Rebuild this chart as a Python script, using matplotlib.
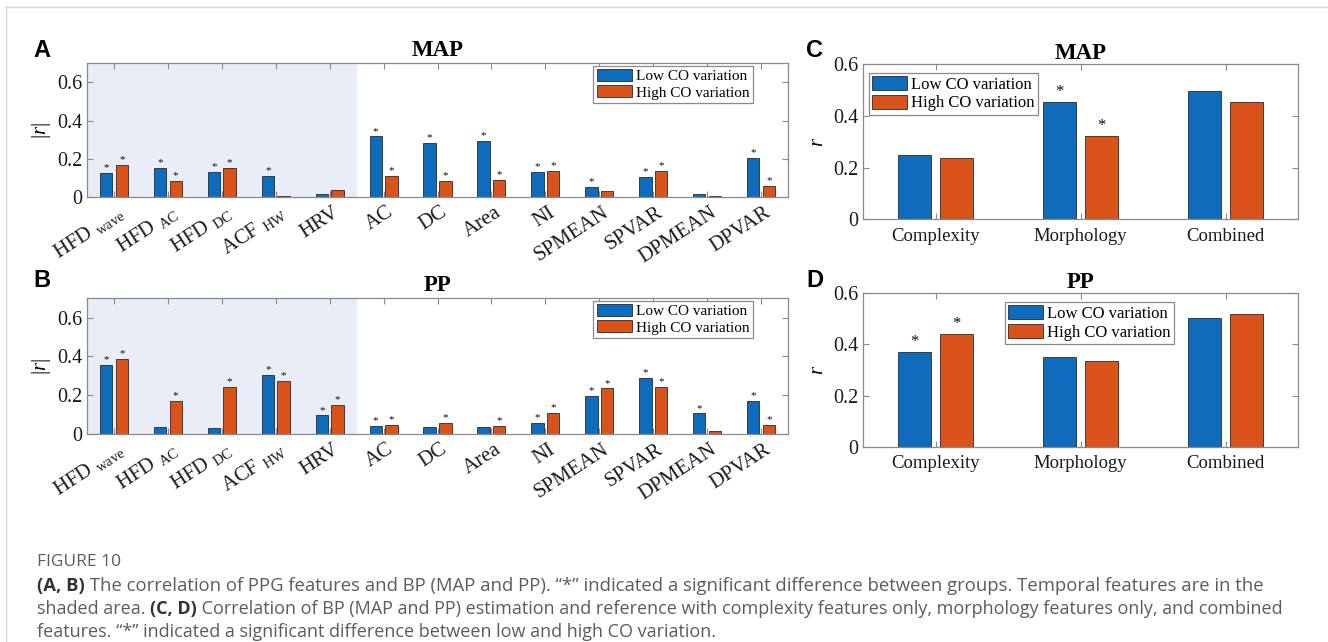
import matplotlib
matplotlib.use('Agg')
import matplotlib.pyplot as plt
import numpy as np
from matplotlib.lines import Line2D
from matplotlib.ticker import FuncFormatter
from matplotlib.transforms import ScaledTranslation

plt.rcParams['font.family'] = ['Liberation Serif', 'DejaVu Serif']
plt.rcParams['mathtext.fontset'] = 'custom'
plt.rcParams['mathtext.rm'] = 'Liberation Serif'
plt.rcParams['mathtext.it'] = 'Liberation Serif:italic'
plt.rcParams['mathtext.bf'] = 'Liberation Serif:bold'

# PPG features (first five are temporal -> shaded)
FEATURES = [r'HFD $_{\rm wave}$', r'HFD $_{\rm AC}$', r'HFD $_{\rm DC}$', r'ACF $_{\rm HW}$', 'HRV',
            'AC', 'DC', 'Area', 'NI', 'SPMEAN', 'SPVAR', 'DPMEAN', 'DPVAR']
N_TEMPORAL = 5

# (A) |r| with MAP
MAP_LOW = [0.126, 0.153, 0.132, 0.110, 0.018, 0.317, 0.284, 0.293, 0.132, 0.053, 0.105, 0.014, 0.205]
MAP_HIGH = [0.168, 0.082, 0.153, 0.005, 0.035, 0.112, 0.084, 0.088, 0.135, 0.030, 0.137, 0.005, 0.058]
MAP_LOW_SIG = [1, 1, 1, 1, 0, 1, 1, 1, 1, 1, 1, 0, 1]
MAP_HIGH_SIG = [1, 1, 1, 0, 0, 1, 1, 1, 1, 0, 1, 0, 1]

# (B) |r| with PP
PP_LOW = [0.358, 0.037, 0.030, 0.306, 0.096, 0.040, 0.037, 0.037, 0.059, 0.198, 0.290, 0.106, 0.169]
PP_HIGH = [0.388, 0.172, 0.245, 0.273, 0.151, 0.049, 0.059, 0.042, 0.110, 0.235, 0.243, 0.014, 0.045]
PP_LOW_SIG = [1, 0, 0, 1, 1, 1, 0, 0, 1, 1, 1, 1, 1]
PP_HIGH_SIG = [1, 1, 1, 1, 1, 1, 1, 1, 1, 1, 1, 0, 1]

# (C, D) r of estimation vs reference
FEATURE_SETS = ['Complexity', 'Morphology', 'Combined']
EST_MAP_LOW = [0.248, 0.455, 0.497]
EST_MAP_HIGH = [0.237, 0.324, 0.454]
EST_MAP_LOW_SIG = [0, 1, 0]
EST_MAP_HIGH_SIG = [0, 1, 0]
EST_PP_LOW = [0.372, 0.351, 0.505]
EST_PP_HIGH = [0.442, 0.336, 0.519]
EST_PP_LOW_SIG = [1, 0, 0]
EST_PP_HIGH_SIG = [1, 0, 0]

W, H = 1328, 642
BLUE = '#0f6cbd'
RED = '#d9531a'
EDGE = '#2a2a2a'
AXIS_GRAY = '#8a8a8a'
SHADE = '#e8edf7'
BAR_W = 0.23
OFFSET = 0.145


def px_axes(fig, left, top, right, bottom):
    """Add axes from pixel box coordinates."""
    return fig.add_axes([left / W, 1 - bottom / H, (right - left) / W, (bottom - top) / H])


def draw_bars(ax, n, low, high, low_sig, high_sig, star_size, star_lift):
    x = np.arange(1, n + 1)
    ax.bar(x - OFFSET, low, BAR_W, color=BLUE, edgecolor=EDGE, linewidth=0.6,
           label='Low CO variation', zorder=2)
    ax.bar(x + OFFSET, high, BAR_W, color=RED, edgecolor=EDGE, linewidth=0.6,
           label='High CO variation', zorder=2)
    # significance markers
    for xs, vals, sig in ((x - OFFSET, low, low_sig), (x + OFFSET, high, high_sig)):
        for xi, v, s in zip(xs, vals, sig):
            if s:
                ax.annotate('*', (xi, v), xytext=(0, star_lift), textcoords='offset points',
                            ha='center', va='baseline', fontsize=star_size, color='#111')
    return x


def style_axes(ax, n, ymax, ylabel, labelpad):
    ax.set_xlim(0.5, n + 0.5)
    ax.set_ylim(0, ymax)
    ax.set_yticks([0, 0.2, 0.4, 0.6])
    ax.yaxis.set_major_formatter(FuncFormatter(lambda v, _: f'{v:g}'))
    ax.tick_params(direction='in', top=True, right=True, length=4, width=0.8,
                   color=AXIS_GRAY, labelsize=14.5, labelcolor='#1a1a1a')
    for spine in ax.spines.values():
        spine.set_color(AXIS_GRAY)
        spine.set_linewidth(0.9)
    ax.set_ylabel(ylabel, fontsize=15, labelpad=labelpad)


def add_legend(ax, loc, anchor, size, hlen, hheight):
    leg = ax.legend(loc=loc, bbox_to_anchor=anchor, borderaxespad=0, fontsize=size,
                    handlelength=hlen, handleheight=hheight, labelspacing=0.12,
                    borderpad=0.2, handletextpad=0.25, fancybox=False,
                    edgecolor=AXIS_GRAY, framealpha=1)
    leg.get_frame().set_linewidth(0.9)
    leg.set_zorder(5)


def feature_panel(fig, box, title, low, high, low_sig, high_sig):
    ax = px_axes(fig, *box)
    ax.axvspan(0.5, N_TEMPORAL + 0.5, color=SHADE, zorder=0, lw=0)
    x = draw_bars(ax, len(FEATURES), low, high, low_sig, high_sig, 8, 2)
    style_axes(ax, len(FEATURES), 0.7, r'$|r|$', 3)
    ax.set_xticks(x)
    ax.set_xticklabels(FEATURES, rotation=33, ha='right', va='center',
                       rotation_mode='anchor', fontsize=15)
    ax.tick_params(axis='x', pad=10)
    shift = ScaledTranslation(8 / 100, 0, fig.dpi_scale_trans)
    for label in ax.get_xticklabels():
        label.set_transform(label.get_transform() + shift)
    ax.set_title(title, fontsize=16.5, fontweight='bold', pad=5)
    add_legend(ax, 'upper right', (0.95, 0.98), 11, 2.35, 0.85)
    return ax


def estimation_panel(fig, box, title, low, high, low_sig, high_sig, legend_anchor):
    ax = px_axes(fig, *box)
    x = draw_bars(ax, len(FEATURE_SETS), low, high, low_sig, high_sig, 12, 4)
    style_axes(ax, len(FEATURE_SETS), 0.6, r'$r$', 4)
    ax.set_xticks(x)
    ax.set_xticklabels(FEATURE_SETS, fontsize=13.5)
    ax.tick_params(axis='x', pad=6)
    ax.set_title(title, fontsize=16.5, fontweight='bold', pad=4)
    add_legend(ax, 'upper left', legend_anchor, 12, 2.1, 0.9)
    return ax


def draw_caption(fig, lines, x0, baselines, sizes):
    """Write caption lines made of (text, bold) runs."""
    renderer = fig.canvas.get_renderer()
    for runs, y, size in zip(lines, baselines, sizes):
        x = x0
        for text, bold in runs:
            t = fig.text(x / W, 1 - y / H, text, fontsize=size, family='Open Sans',
                         fontweight='bold' if bold else 'normal',
                         color='#333333' if bold else '#5c5c5c',
                         ha='left', va='baseline')
            x += t.get_window_extent(renderer).width


fig = plt.figure(figsize=(W / 100, H / 100), dpi=100)

feature_panel(fig, (87, 63.3, 788, 197), 'MAP', MAP_LOW, MAP_HIGH, MAP_LOW_SIG, MAP_HIGH_SIG)
feature_panel(fig, (87, 298.3, 788, 434), 'PP', PP_LOW, PP_HIGH, PP_LOW_SIG, PP_HIGH_SIG)
estimation_panel(fig, (863.3, 64.3, 1298, 219.3), 'MAP', EST_MAP_LOW, EST_MAP_HIGH,
                 EST_MAP_LOW_SIG, EST_MAP_HIGH_SIG, (0.013, 0.946))
estimation_panel(fig, (863.3, 293.3, 1298, 446.7), 'PP', EST_PP_LOW, EST_PP_HIGH,
                 EST_PP_LOW_SIG, EST_PP_HIGH_SIG, (0.325, 0.943))

# panel letters
for letter, (px, py) in zip('ABCD', [(33, 57), (33, 287), (806, 57), (806, 287)]):
    fig.text(px / W, 1 - py / H, letter, fontsize=17, fontweight='bold',
             family='Liberation Sans', va='baseline', ha='left')

# card border (top and left)
fig.add_artist(Line2D([6 / W, 1], [1 - 7 / H, 1 - 7 / H], transform=fig.transFigure,
                      color='#d6d6d6', lw=1))
fig.add_artist(Line2D([6 / W, 6 / W], [0, 1 - 7 / H], transform=fig.transFigure,
                      color='#d6d6d6', lw=1))

caption = [
    [('FIGURE 10', False)],
    [('(A, B)', True),
     (' The correlation of PPG features and BP (MAP and PP). \u201c*\u201d indicated a significant '
      'difference between groups. Temporal features are in the', False)],
    [('shaded area. ', False), ('(C, D)', True),
     (' Correlation of BP (MAP and PP) estimation and reference with complexity features only, '
      'morphology features only, and combined', False)],
    [('features. \u201c*\u201d indicated a significant difference between low and high CO variation.', False)],
]
draw_caption(fig, caption, 37, [566, 591, 614, 637], [12.5, 13.3, 13.0, 13.0])

fig.savefig('out.png', dpi=100)
